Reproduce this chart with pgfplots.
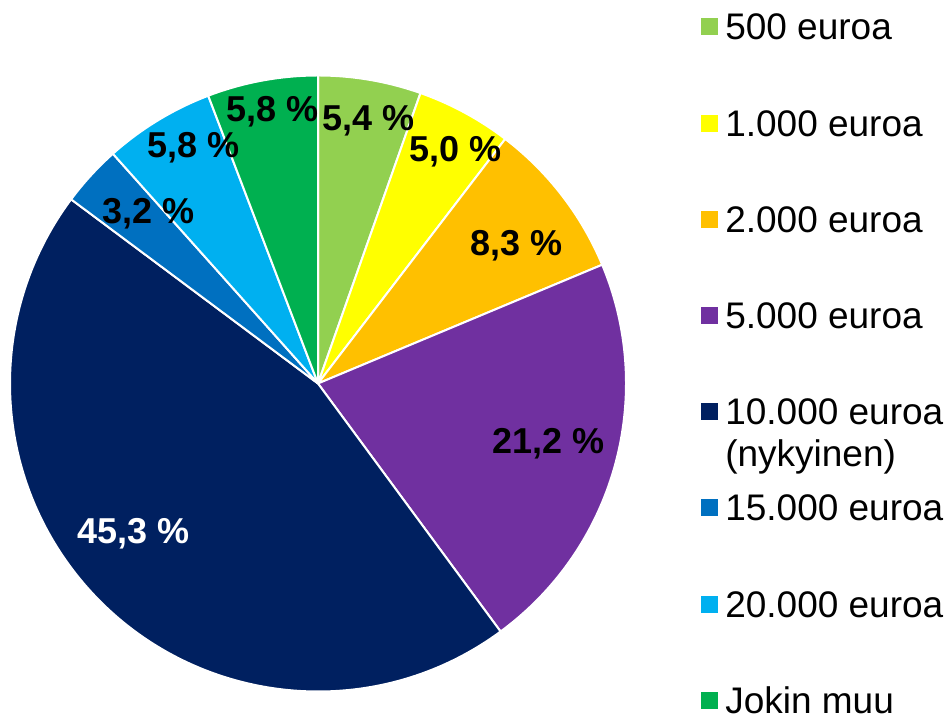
\documentclass[border=0pt]{standalone}
\usepackage{pgfplots}
\pgfplotsset{compat=1.18}
\usepackage{pgfplotstable}
\usepackage{fontspec}
\setmainfont{Liberation Sans}
\definecolor{cA}{HTML}{92D050}
\definecolor{cB}{HTML}{FFFF00}
\definecolor{cC}{HTML}{FFC000}
\definecolor{cD}{HTML}{7030A0}
\definecolor{cE}{HTML}{002060}
\definecolor{cF}{HTML}{0070C0}
\definecolor{cG}{HTML}{00B0F0}
\definecolor{cH}{HTML}{00B050}
\pgfplotstableread{
value lx ly col tcol
5.4 0.164 0.823 cA black
5.0 0.446 0.721 cB black
8.3 0.643 0.417 cC black
21.2 0.747 -0.226 cD black
45.3 -0.599 -0.521 cE white
3.2 -0.549 0.521 cF black
5.8 -0.403 0.735 cG black
5.8 -0.149 0.851 cH black
}\piedata
\begin{document}
\begin{tikzpicture}
\path[use as bounding box] (0,0) rectangle (712.5pt,537pt);
\begin{axis}[hide axis, x=231pt, y=231pt, xmin=-1, xmax=1, ymin=-1, ymax=1,
  anchor=origin, at={(238.5pt,249.375pt)}, clip=false]
\pgfplotsextra{%
  \gdef\angA{90}%
  \foreach \i in {0,...,7}{%
    \pgfplotstablegetelem{\i}{value}\of\piedata \let\sv\pgfplotsretval
    \pgfplotstablegetelem{\i}{col}\of\piedata \let\slicecol\pgfplotsretval
    \pgfmathsetmacro\angB{\angA-3.6*\sv}%
    \fill[fill=\slicecol, draw=white, line width=1.5pt, line join=round]
      (axis cs:0,0) -- (axis cs:{cos(\angA)},{sin(\angA)})
      arc[start angle=\angA, end angle=\angB, radius=231pt] -- cycle;
    \xdef\angA{\angB}%
  }%
  \foreach \i in {0,...,7}{%
    \pgfplotstablegetelem{\i}{value}\of\piedata \let\sv\pgfplotsretval
    \pgfplotstablegetelem{\i}{lx}\of\piedata \let\lx\pgfplotsretval
    \pgfplotstablegetelem{\i}{ly}\of\piedata \let\ly\pgfplotsretval
    \pgfplotstablegetelem{\i}{tcol}\of\piedata \let\tc\pgfplotsretval
    \node[anchor=base, inner sep=0, text=\tc, font=\bfseries\fontsize{27}{30}\selectfont]
      at (axis cs:\lx,\ly) {\pgfmathprintnumber[fixed, fixed zerofill, precision=1, use comma, assume math mode=true]{\sv}~\%};
  }%
}
\end{axis}
\foreach \col/\txt [count=\i from 0] in {cA/{500 euroa}, cB/{1.000 euroa}, cC/{2.000 euroa}, cD/{5.000 euroa}, cE/{\begin{tabular}[t]{@{}l@{}}10.000 euroa\\(nykyinen)\end{tabular}}, cF/{15.000 euroa}, cG/{20.000 euroa}, cH/{Jokin muu}}{%
  \pgfmathsetmacro\yc{516.75-72.15*\i}%
  \pgfmathsetmacro\ys{\yc-6.375}%
  \pgfmathsetmacro\yb{\yc-9.75}%
  \fill[\col] (525.75pt,\ys pt) rectangle ++(12.75pt,12.75pt);
  \node[anchor=base west, inner sep=0, font=\fontsize{27.75}{31.5}\selectfont] at (543.75pt,\yb pt) {\txt};
}
\end{tikzpicture}
\end{document}
